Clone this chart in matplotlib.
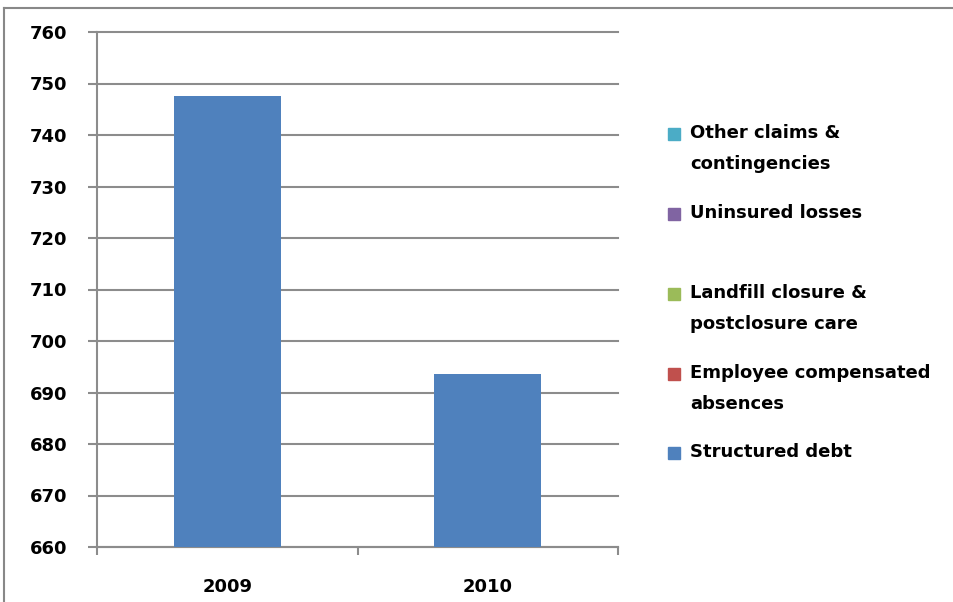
import matplotlib.pyplot as plt
import numpy as np
from matplotlib.patches import Rectangle
from matplotlib.lines import Line2D

years = ['2009', '2010']
structured_debt = [747.5, 693.6]
employee_absences = [0, 0]
landfill_care = [0, 0]
uninsured_losses = [0, 0]
other_claims = [0, 0]

series = [
    ('Structured debt', structured_debt, '#4F81BD'),
    ('Employee compensated\nabsences', employee_absences, '#C0504D'),
    ('Landfill closure &\npostclosure care', landfill_care, '#9BBB59'),
    ('Uninsured losses', uninsured_losses, '#8064A2'),
    ('Other claims &\ncontingencies', other_claims, '#4BACC6'),
]

W, H = 954, 602
fig = plt.figure(figsize=(W / 100, H / 100), dpi=100)
ax = fig.add_axes([97 / W, 1 - 547 / H, (618 - 97) / W, (547 - 32) / H])

x = np.arange(len(years))
bottom = np.zeros(len(years))
for name, vals, col in series:
    vals = np.array(vals, dtype=float)
    ax.bar(x, vals, width=0.41, bottom=bottom, color=col, zorder=3)
    bottom = bottom + vals

grid_col = '#8C8C8C'
ax.set_ylim(660, 760)
ax.set_xlim(-0.5, 1.5)
ax.set_yticks(np.arange(660, 761, 10))
ax.yaxis.grid(True, color=grid_col, linewidth=1.5, zorder=0, clip_on=False)
ax.set_xticks(x)
ax.set_xticklabels(years)
ax.set_xticks([-0.5, 0.5, 1.5], minor=True)

for s in ['top', 'right']:
    ax.spines[s].set_visible(False)
for s in ['left', 'bottom']:
    ax.spines[s].set_color(grid_col)
    ax.spines[s].set_linewidth(1.5)

ax.tick_params(axis='y', length=6.5, width=1.5, color=grid_col, pad=15,
               labelsize=13)
ax.tick_params(axis='x', which='major', length=0, pad=22, labelsize=13)
ax.tick_params(axis='x', which='minor', length=5.5, width=1.5, color=grid_col)
for lab in ax.get_xticklabels() + ax.get_yticklabels():
    lab.set_fontweight('bold')

# legend drawn like Excel: markers next to first line of each label
leg_y = [134, 214, 294, 374, 453]
for (name, vals, col), yy in zip(series[::-1], leg_y):
    fig.add_artist(Rectangle((668 / W, 1 - (yy + 6) / H), 12 / W, 12 / H,
                             transform=fig.transFigure, color=col))
    fig.text(690 / W, 1 - (yy - 10) / H, name, fontsize=13, fontweight='bold',
             va='top', ha='left', linespacing=1.9)

# chart outer border
fig.add_artist(Line2D([4 / W, 4 / W], [0, 1 - 8 / H], color='#888888', lw=1.5))
fig.add_artist(Line2D([4 / W, 1], [1 - 8 / H, 1 - 8 / H], color='#888888', lw=1.5))

fig.savefig('out.png', dpi=100)
